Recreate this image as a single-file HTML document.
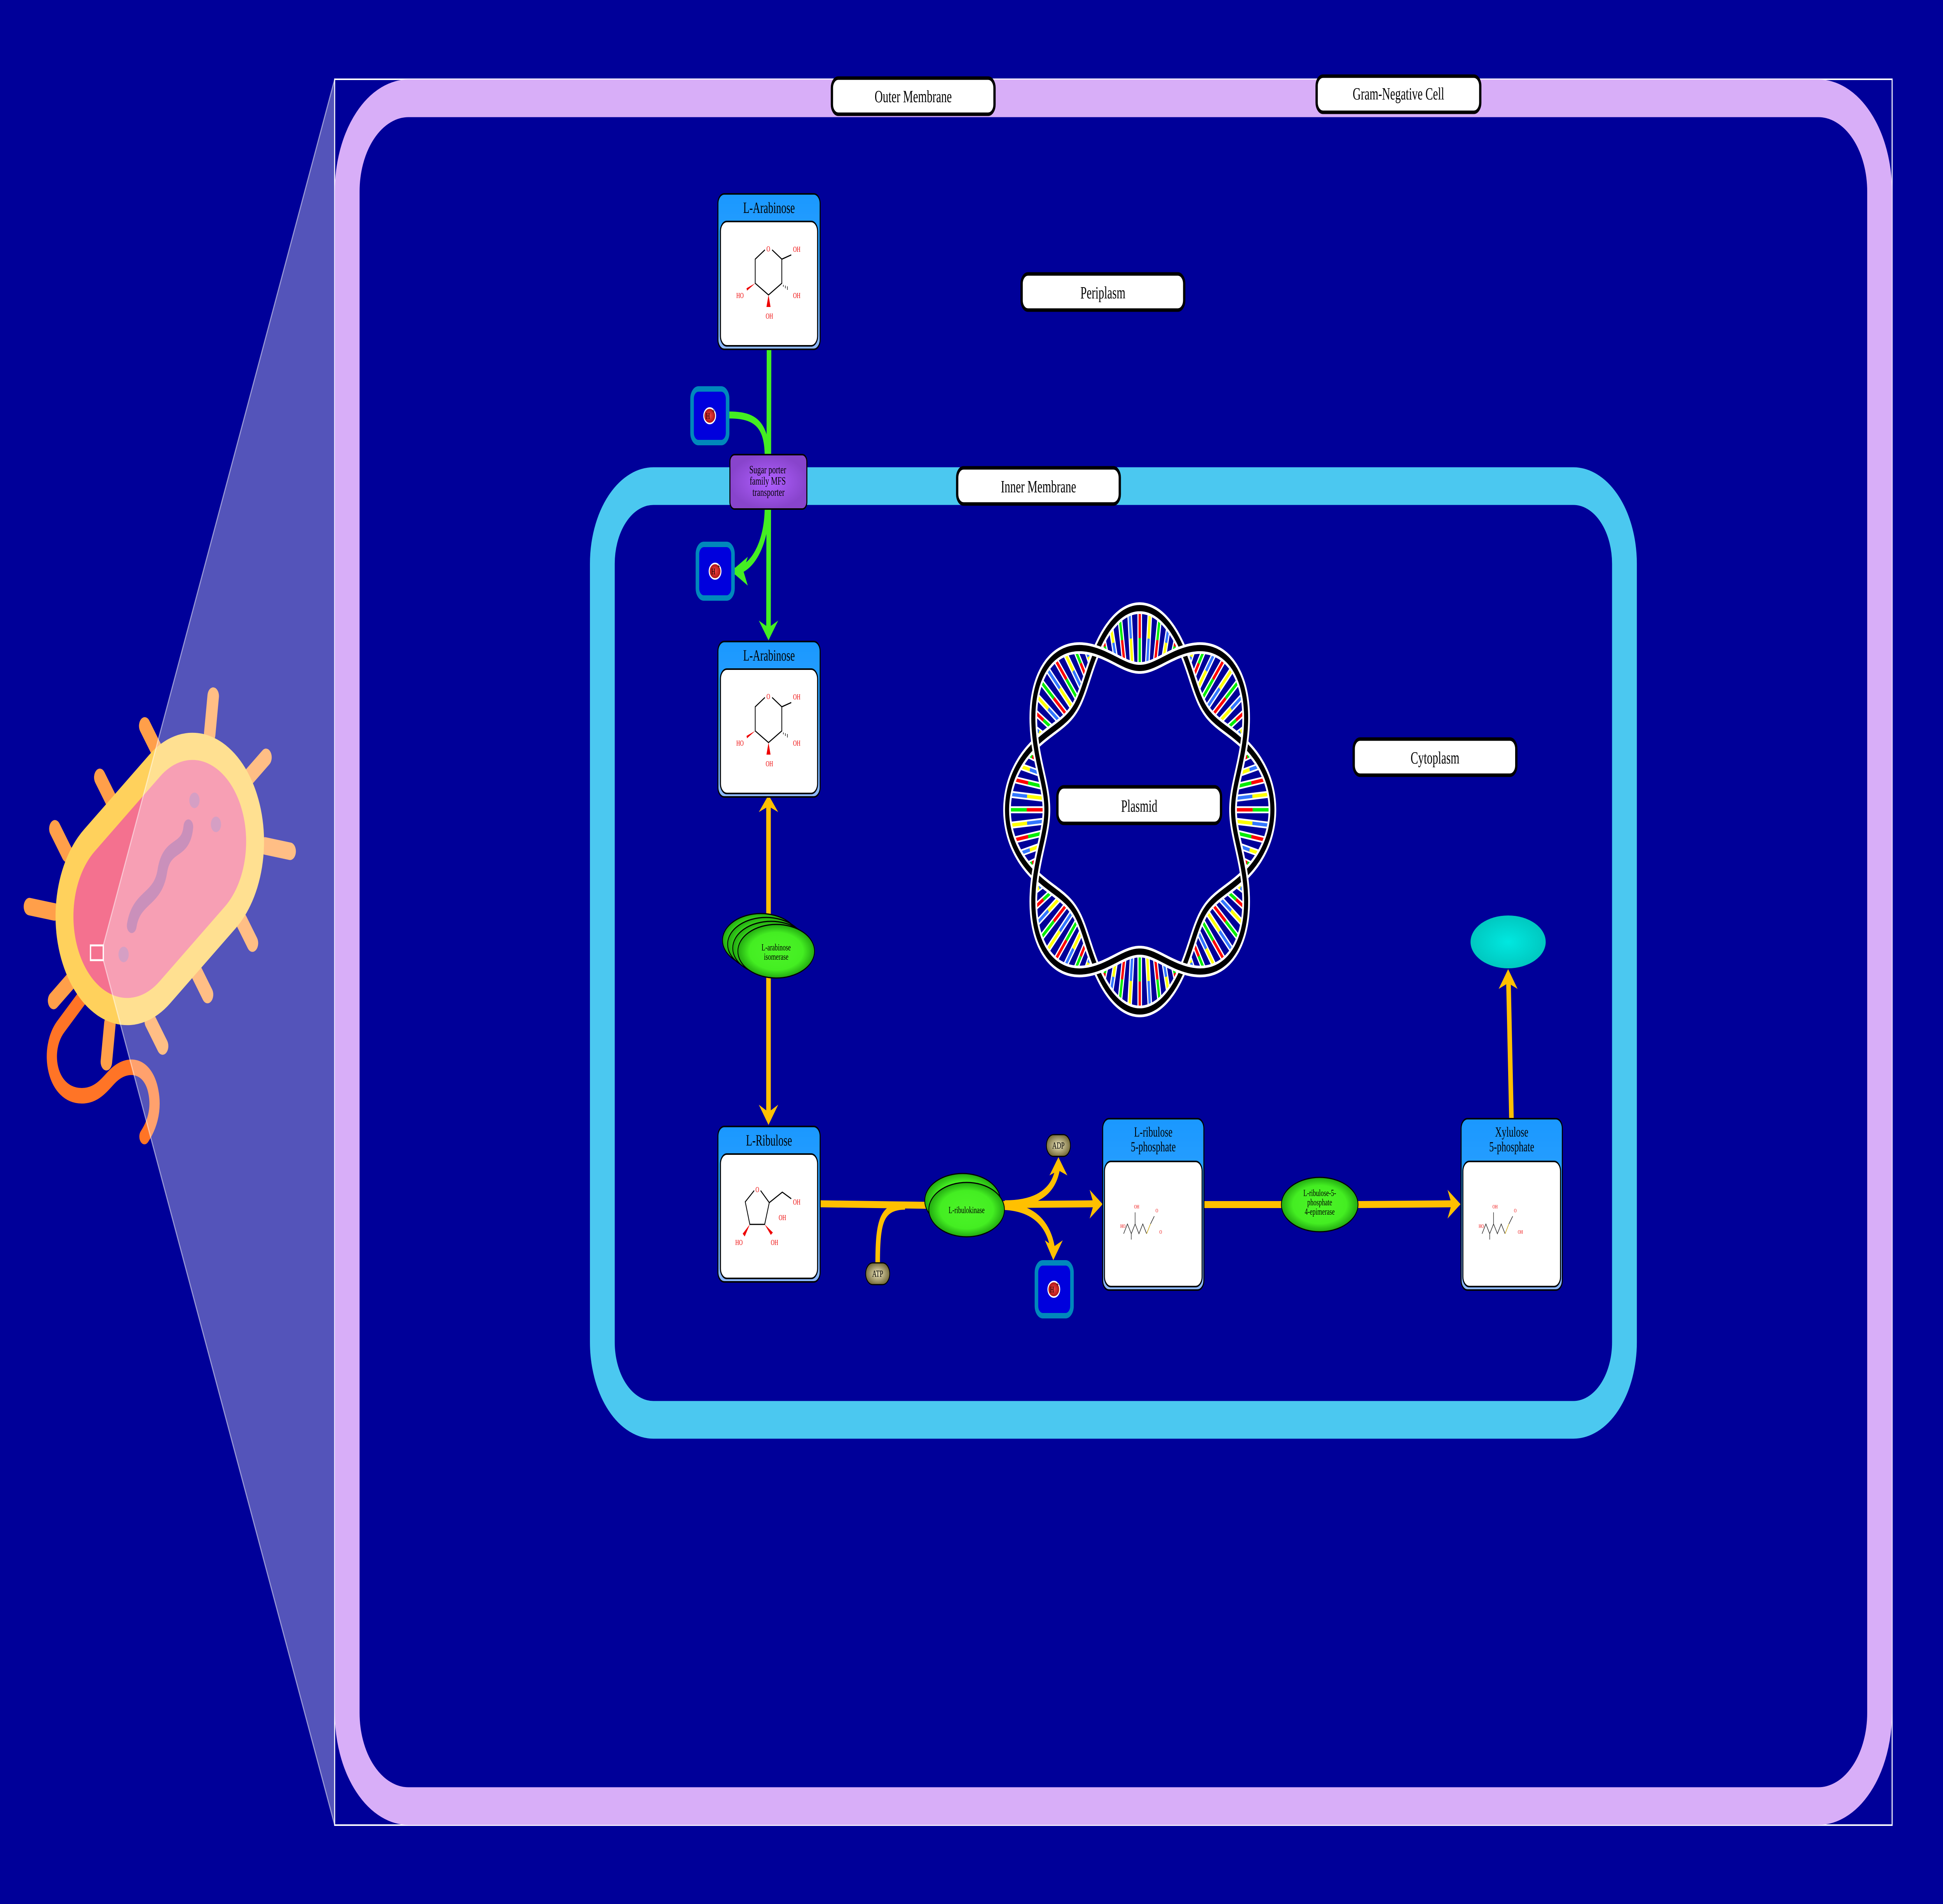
<!DOCTYPE html>
<html><head><meta charset="utf-8"><style>
html,body{margin:0;padding:0;background:#000099;overflow:hidden;width:100%;height:100%;}
svg{display:block;width:100vw;height:100vh;}
text{font-family:"Liberation Serif",serif;}
</style></head><body>
<svg viewBox="0 0 7600 4900" preserveAspectRatio="none" xmlns="http://www.w3.org/2000/svg">
<defs>
<linearGradient id="hdr" x1="0" y1="0" x2="0" y2="1"><stop offset="0" stop-color="#1a98ff"/><stop offset="0.4" stop-color="#2aa0ff"/><stop offset="1" stop-color="#90b8ff"/></linearGradient>
<radialGradient id="grn"><stop offset="0" stop-color="#4cf428"/><stop offset="0.7" stop-color="#44ee22"/><stop offset="1" stop-color="#22aa11"/></radialGradient>
<radialGradient id="olv"><stop offset="0" stop-color="#f0e8c0"/><stop offset="1" stop-color="#7a7040"/></radialGradient>
<radialGradient id="red"><stop offset="0" stop-color="#ee4444"/><stop offset="1" stop-color="#aa1111"/></radialGradient>
<radialGradient id="teal"><stop offset="0" stop-color="#00e8e0"/><stop offset="1" stop-color="#00c8c0"/></radialGradient>
<radialGradient id="pur"><stop offset="0" stop-color="#b060ff"/><stop offset="1" stop-color="#8844cc"/></radialGradient>
</defs>
<rect width="7600" height="4900" fill="#000099"/>

<!-- bacterium -->
<path d="M330 2560 L240 2640 C170 2700 200 2820 320 2820 C380 2820 410 2790 440 2770 C500 2730 580 2740 600 2810 C615 2860 590 2900 565 2925" fill="none" stroke="#ff7426" stroke-width="40" stroke-linecap="round"/>
<g transform="translate(625,2262) rotate(-37)">
<g stroke="#ff9f4a" stroke-width="45" stroke-linecap="round">
<line x1="-250" y1="-270" x2="-250" y2="-350"/><line x1="-30" y1="-270" x2="-30" y2="-350"/><line x1="190" y1="-270" x2="190" y2="-350"/>
<line x1="-250" y1="270" x2="-250" y2="350"/><line x1="-30" y1="270" x2="-30" y2="350"/><line x1="190" y1="270" x2="190" y2="350"/>
<line x1="430" y1="0" x2="520" y2="0"/><line x1="-430" y1="0" x2="-520" y2="0"/>
<line x1="380" y1="-180" x2="450" y2="-250"/><line x1="380" y1="180" x2="450" y2="250"/>
<line x1="-380" y1="-180" x2="-450" y2="-250"/><line x1="-380" y1="180" x2="-450" y2="250"/>
</g>
<rect x="-440" y="-280" width="880" height="560" rx="280" fill="#ffd15c"/>
<rect x="-370" y="-210" width="740" height="420" rx="210" fill="#f4718f"/>
<path d="M-160 30 C-100 -20 -40 40 20 -10 C80 -60 120 10 170 -40" fill="none" stroke="#b05a9a" stroke-width="38" stroke-linecap="round"/>
<circle cx="230" cy="-80" r="20" fill="#c070a8"/><circle cx="260" cy="20" r="20" fill="#c070a8"/><circle cx="-230" cy="70" r="20" fill="#c070a8"/>
</g>
<rect x="354" y="2433" width="50" height="38" fill="none" stroke="#fff" stroke-width="5"/>
<polygon points="404,2433 1309,204 1309,4697 404,2471" fill="#ffffff" fill-opacity="0.33" stroke="#ffffff" stroke-opacity="0.5" stroke-width="4"/>

<!-- frame & membranes -->
<rect x="1309" y="204" width="6092" height="4493" fill="none" stroke="#fff" stroke-width="4"/>
<rect x="1358" y="253" width="5994" height="4395" rx="240" fill="none" stroke="#d8aef8" stroke-width="97"/>
<rect x="2356" y="1251" width="3998" height="2403" rx="200" fill="none" stroke="#4bc8f0" stroke-width="97"/>

<!-- labels -->
<g font-size="44" text-anchor="middle">
<rect x="3254" y="201" width="636" height="93" rx="25" fill="#fff" stroke="#000" stroke-width="9"/><text x="3572" y="263">Outer Membrane</text>
<rect x="5150" y="196" width="640" height="93" rx="25" fill="#fff" stroke="#000" stroke-width="9"/><text x="5470" y="256">Gram-Negative Cell</text>
<rect x="3996" y="705" width="636" height="93" rx="25" fill="#fff" stroke="#000" stroke-width="9"/><text x="4314" y="768">Periplasm</text>
<rect x="3744" y="1204" width="636" height="93" rx="25" fill="#fff" stroke="#000" stroke-width="9"/><text x="4062" y="1267">Inner Membrane</text>
<rect x="5295" y="1902" width="636" height="93" rx="25" fill="#fff" stroke="#000" stroke-width="9"/><text x="5613" y="1965">Cytoplasm</text>
</g>

<!-- plasmid -->
<g id="pl"></g>
<rect x="4136" y="2025" width="640" height="94" rx="25" fill="#fff" stroke="#000" stroke-width="9"/>
<text x="4456" y="2089" font-size="44" text-anchor="middle">Plasmid</text>

<!-- teal -->
<ellipse cx="5899" cy="2424" rx="147" ry="68" fill="url(#teal)"/>

<!-- green arrows -->
<g fill="none" stroke="#44ee22" stroke-width="18">
<path d="M3008 899 L3006 1625"/>
<path d="M2853 1068 C2950 1068 3000 1090 3000 1175"/>
<path d="M3000 1305 C3000 1400 2940 1468 2870 1470"/>
</g>
<polygon points="2968,1597 3006,1648 3044,1597 3006,1615" fill="#44ee22"/>
<polygon points="2925,1433 2860,1470 2925,1507 2908,1470" fill="#44ee22"/>

<!-- orange arrows -->
<g fill="none" stroke="#ffc000" stroke-width="18">
<path d="M3006 2070 L3006 2880"/>
<path d="M3208 3098 L3640 3102"/>
<path d="M3433 3250 C3433 3140 3450 3105 3540 3104"/>
<path d="M3920 3100 L4290 3098"/>
<path d="M3930 3098 C4100 3098 4135 3040 4140 2990"/>
<path d="M3930 3105 C4080 3110 4115 3180 4120 3230"/>
<path d="M4709 3100 L5020 3100"/>
<path d="M5300 3100 L5690 3098"/>
<path d="M5912 2879 L5900 2515"/>
</g>
<g fill="#ffc000">
<polygon points="2968,2090 3006,2046 3044,2090 3006,2075"/>
<polygon points="2968,2843 3006,2895 3044,2843 3006,2862"/>
<polygon points="4262,3062 4313,3099 4262,3136 4278,3099"/>
<polygon points="5662,3062 5713,3099 5662,3136 5678,3099"/>
<polygon points="4105,3025 4140,2978 4175,3025 4140,3012"/>
<polygon points="4087,3192 4120,3243 4157,3192 4122,3208"/>
<polygon points="5862,2545 5899,2494 5936,2545 5899,2530"/>
</g>

<!-- enzymes -->
<g stroke="#000" stroke-width="3" fill="url(#grn)">
<ellipse cx="2976" cy="2420" rx="150" ry="69"/>
<ellipse cx="2996" cy="2430" rx="150" ry="69"/>
<ellipse cx="3016" cy="2440" rx="150" ry="69"/>
<ellipse cx="3036" cy="2448" rx="150" ry="69"/>
<ellipse cx="3765" cy="3090" rx="148" ry="70"/>
<ellipse cx="3781" cy="3113" rx="148" ry="70"/>
<ellipse cx="5162" cy="3100" rx="150" ry="70"/>
</g>
<g font-size="24" text-anchor="middle">
<text x="3036" y="2446">L-arabinose</text><text x="3036" y="2470">isomerase</text>
<text x="3781" y="3122">L-ribulokinase</text>
<text x="5162" y="3078">L-ribulose-5-</text><text x="5162" y="3102">phosphate</text><text x="5162" y="3126">4-epimerase</text>
</g>

<!-- ATP/ADP -->
<rect x="3386" y="3250" width="94" height="56" rx="28" fill="url(#olv)" stroke="#000" stroke-width="3"/>
<text x="3433" y="3286" font-size="24" text-anchor="middle">ATP</text>
<rect x="4093" y="2920" width="94" height="56" rx="28" fill="url(#olv)" stroke="#000" stroke-width="3"/>
<text x="4140" y="2956" font-size="24" text-anchor="middle">ADP</text>

<!-- transporter -->
<rect x="2855" y="1170" width="301" height="140" rx="18" fill="url(#pur)" stroke="#000" stroke-width="4"/>
<g font-size="29" text-anchor="middle"><text x="3003" y="1218">Sugar porter</text><text x="3003" y="1247">family MFS</text><text x="3006" y="1276">transporter</text></g>

<!-- H+ boxes -->
<g>
<rect x="2707" y="1001" width="139" height="138" rx="25" fill="#0000dd" stroke="#0088bb" stroke-width="14"/>
<ellipse cx="2776" cy="1070" rx="23" ry="20" fill="url(#red)" stroke="#fff" stroke-width="4"/>
<text x="2769" y="1078" font-size="22" text-anchor="middle">H</text><text x="2785" y="1064" font-size="20">+</text>
<rect x="2728" y="1401" width="139" height="138" rx="25" fill="#0000dd" stroke="#0088bb" stroke-width="14"/>
<ellipse cx="2797" cy="1470" rx="23" ry="20" fill="url(#red)" stroke="#fff" stroke-width="4"/>
<text x="2790" y="1478" font-size="22" text-anchor="middle">H</text><text x="2806" y="1464" font-size="20">+</text>
<rect x="4054" y="3250" width="139" height="136" rx="25" fill="#0000dd" stroke="#0088bb" stroke-width="14"/>
<ellipse cx="4122" cy="3318" rx="23" ry="20" fill="url(#red)" stroke="#fff" stroke-width="4"/>
<text x="4115" y="3326" font-size="22" text-anchor="middle">H</text><text x="4131" y="3312" font-size="20">+</text>
</g>

<!-- molecule boxes -->
<g id="ara1">
<rect x="2808" y="499" width="400" height="400" rx="25" fill="url(#hdr)" stroke="#000" stroke-width="4"/>
<text x="3008" y="548" font-size="40" text-anchor="middle">L-Arabinose</text>
<rect x="2818" y="570" width="380" height="320" rx="25" fill="#fff" stroke="#000" stroke-width="4"/>
<g fill="none" stroke="#000" stroke-width="3"><path d="M2992 643 L2954 667 L2954 729 L3006 759 L3058 729 L3058 667 L3020 643"/><path d="M3058 667 L3095 656"/></g>
<polygon points="2954,729 2920,742 2922,748" fill="#e00"/>
<polygon points="3006,759 2998,790 3014,790" fill="#e00"/>
<g stroke="#000" stroke-width="2"><line x1="3064" y1="733" x2="3064" y2="738"/><line x1="3072" y1="735" x2="3072" y2="742"/><line x1="3080" y1="737" x2="3080" y2="746"/></g>
<g fill="#e00" font-family="Liberation Sans,sans-serif" font-size="20"><text x="2998" y="647">O</text><text x="3102" y="648">OH</text><text x="3102" y="767">OH</text><text x="2995" y="820">OH</text><text x="2880" y="767">HO</text></g>
</g>
<use href="#ara1" transform="translate(0,1152)"/>

<g>
<rect x="2808" y="2899" width="400" height="400" rx="25" fill="url(#hdr)" stroke="#000" stroke-width="4"/>
<text x="3008" y="2948" font-size="40" text-anchor="middle">L-Ribulose</text>
<rect x="2818" y="2970" width="380" height="320" rx="25" fill="#fff" stroke="#000" stroke-width="4"/>
<path d="M2950 3064 L2915 3093 L2933 3151 L2991 3151 L3009 3095 L3060 3068 L3095 3085 M3009 3095 L2975 3064" fill="none" stroke="#000" stroke-width="3"/>
<polygon points="2933,3151 2905,3175 2913,3182" fill="#e00"/>
<polygon points="2991,3151 3015,3178 3023,3172" fill="#e00"/>
<g fill="#e00" font-family="Liberation Sans,sans-serif" font-size="20"><text x="2955" y="3068">O</text><text x="3102" y="3100">OH</text><text x="3046" y="3140">OH</text><text x="3015" y="3204">OH</text><text x="2876" y="3204">HO</text></g>
</g>

<g id="rp">
<rect x="4313" y="2879" width="396" height="441" rx="25" fill="url(#hdr)" stroke="#000" stroke-width="4"/>
<rect x="4320" y="2989" width="382" height="322" rx="25" fill="#fff" stroke="#000" stroke-width="4"/>
<path d="M4395 3175 L4410 3150 L4425 3175 L4440 3150 L4455 3175 L4470 3150 L4485 3175 M4425 3175 L4425 3190 M4440 3150 L4440 3120 M4500 3150 L4515 3130" fill="none" stroke="#222" stroke-width="2"/>
<path d="M4485 3175 L4500 3150" fill="none" stroke="#c8a000" stroke-width="2"/>
</g>
<text x="4511" y="2925" font-size="36" text-anchor="middle">L-ribulose</text>
<text x="4511" y="2963" font-size="36" text-anchor="middle">5-phosphate</text>
<g fill="#e00" font-family="Liberation Sans,sans-serif" font-size="14"><text x="4382" y="3160">HO</text><text x="4436" y="3110">OH</text><text x="4520" y="3120">O</text><text x="4535" y="3175">O</text></g>

<use href="#rp" transform="translate(1402,0)"/>
<text x="5913" y="2925" font-size="36" text-anchor="middle">Xylulose</text>
<text x="5913" y="2963" font-size="36" text-anchor="middle">5-phosphate</text>
<g fill="#e00" font-family="Liberation Sans,sans-serif" font-size="14"><text x="5784" y="3160">HO</text><text x="5838" y="3110">OH</text><text x="5922" y="3120">O</text><text x="5937" y="3175">OH</text></g>
</svg>
<script>
(function(){
var g=document.getElementById('pl'),cx=4458,cy=2084,R=442,A=77;
var cols=['#ff0000','#ffff00','#00ee00','#3377ff'];
var s='';var k=0;
for(var d=0;d<360;d+=4.5){var t=d*Math.PI/180,c=Math.cos(4*t);if(Math.abs(c)<0.3)continue;
var r1=R+A*Math.abs(c)-6,r2=R-A*Math.abs(c)+6,rm=(r1+r2)/2,ct=Math.cos(t),st=Math.sin(t);
var p=function(r){return [(cx+r*ct).toFixed(1),(cy+r*st).toFixed(1)];};
var a0=p(r2),a1=p(r1);
s+='<line x1="'+a0[0]+'" y1="'+a0[1]+'" x2="'+a1[0]+'" y2="'+a1[1]+'" stroke="#fff" stroke-width="18"/>';
var a=cols[k%4],b=cols[(k+2)%4];k++;
var q1=p(r2+4),q2=p(rm),q3=p(r1-4);
s+='<line x1="'+q1[0]+'" y1="'+q1[1]+'" x2="'+q2[0]+'" y2="'+q2[1]+'" stroke="'+a+'" stroke-width="9"/>';
s+='<line x1="'+q2[0]+'" y1="'+q2[1]+'" x2="'+q3[0]+'" y2="'+q3[1]+'" stroke="'+b+'" stroke-width="9"/>';}
function strand(sg){var dd='';for(var i=0;i<=720;i++){var t=i/720*2*Math.PI,r=R+sg*A*Math.cos(4*t);dd+=(i?'L':'M')+(cx+r*Math.cos(t)).toFixed(1)+' '+(cy+r*Math.sin(t)).toFixed(1);}return dd+'Z';}
var d1=strand(1),d2=strand(-1);
s+='<path d="'+d1+'" fill="none" stroke="#fff" stroke-width="30"/><path d="'+d1+'" fill="none" stroke="#000" stroke-width="16"/>';
s+='<path d="'+d2+'" fill="none" stroke="#fff" stroke-width="30"/><path d="'+d2+'" fill="none" stroke="#000" stroke-width="16"/>';
g.innerHTML=s;})();
</script>
</body></html>
